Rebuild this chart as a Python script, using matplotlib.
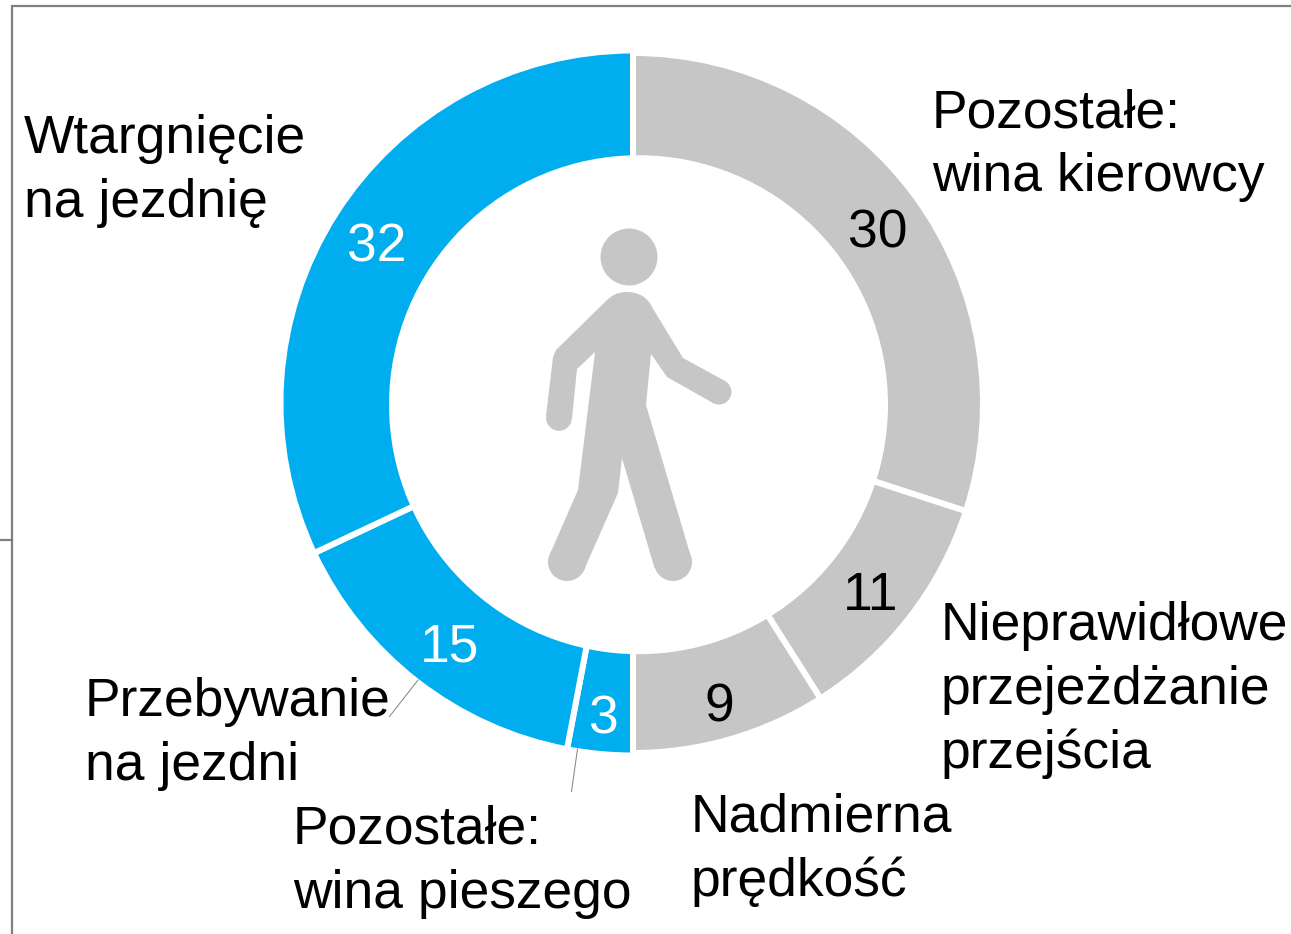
"""Wykres pierścieniowy: przyczyny wypadków z udziałem pieszych."""
import matplotlib
matplotlib.use('Agg')

import matplotlib.pyplot as plt
from matplotlib.patches import Circle, PathPatch
from matplotlib.path import Path

plt.rcParams['font.family'] = ['Liberation Sans', 'DejaVu Sans']

W, H = 1291, 934

# dane, zgodnie z ruchem wskazówek od góry
values = [30, 11, 9, 3, 15, 32]
categories = ['Pozostałe:\nwina kierowcy',
              'Nieprawidłowe\nprzejeżdżanie\nprzejścia',
              'Nadmierna\nprędkość',
              'Pozostałe:\nwina pieszego',
              'Przebywanie\nna jezdni',
              'Wtargnięcie\nna jezdnię']

GRAY = '#C6C6C6'
BLUE = '#00AEEF'
FRAME = '#808080'
colors = [GRAY, GRAY, GRAY, BLUE, BLUE, BLUE]
value_colors = ['black', 'black', 'black', 'white', 'white', 'white']

# rozmieszczenie w pikselach obrazu (y od góry)
CX, CY = 633, 403
R_GRAY, R_BLUE = 347, 349.5
HOLE_X, HOLE_Y, HOLE_R = 638.5, 404.7, 249.5  # otwór nie jest współśrodkowy
EDGE_PX = 6
value_pos = [(877.5, 233), (871, 596), (719, 708), (603.5, 719), (449.5, 648), (376.5, 247)]
label_pos = [(932, 127), (941, 640), (691, 832), (293, 844), (85, 716), (24, 153)]
LINE_STEP = 64
FONT_PT = 38.4


def py(y):
    """y obrazu -> y osi"""
    return H - y


def walker_path():
    """Sylwetka pieszego (współrzędne w pikselach obrazu)"""
    M, L, Q, C = Path.MOVETO, Path.LINETO, Path.CURVE3, Path.CLOSEPOLY
    pts = [
        ((626, 292), M),
        ((645, 292), Q), ((652, 307), Q),
        ((683, 358), L),
        ((725, 381), L),
        ((713, 403), L),
        ((667, 377), L),
        ((651, 354), L),
        ((646, 405), L),
        ((691, 557), L),
        ((654.5, 568), L),
        ((622, 458), L),
        ((618, 493), L),
        ((584, 570), L),
        ((550, 554), L),
        ((578, 490), L),
        ((595, 352), L),
        ((577, 369), L),
        ((572, 418), L),
        ((546, 416), L),
        ((553, 357), L),
        ((556, 350), L),
        ((605, 302), L),
        ((614, 292), Q), ((626, 292), Q),
        ((626, 292), C),
    ]
    return Path([(x, py(y)) for (x, y), _ in pts], [c for _, c in pts])


fig = plt.figure(figsize=(W / 100, H / 100), dpi=100, facecolor='white')
ax = fig.add_axes([0, 0, 1, 1])

wedges, _ = ax.pie(values, colors=colors, startangle=90, counterclock=False,
                   center=(CX, py(CY)), radius=R_GRAY + EDGE_PX / 2, frame=True,
                   wedgeprops={'edgecolor': 'white',
                               'linewidth': EDGE_PX * 72 / 100})
# niebieska część jest minimalnie większa
for wedge, col in zip(wedges, colors):
    if col == BLUE:
        wedge.set_radius(R_BLUE + EDGE_PX / 2)

ax.add_patch(Circle((HOLE_X, py(HOLE_Y)), HOLE_R, fc='white', ec='none'))

ax.set_xlim(0, W)
ax.set_ylim(0, H)
ax.set_aspect('equal')
ax.axis('off')

# ramka
ax.plot([12, 12, W], [0, py(6), py(6)], color=FRAME, lw=1.6, solid_joinstyle='miter')
ax.plot([0, 12], [py(539.5), py(539.5)], color=FRAME, lw=1.6)

# linie odniesienia
ax.plot([389.5, 418], [py(716.5), py(680)], color=FRAME, lw=0.7)
ax.plot([577.5, 571.5], [py(749), py(791.5)], color=FRAME, lw=0.7)

# pieszy
ax.add_patch(Circle((629, py(257)), 28.5, fc=GRAY, ec='none'))
ax.add_patch(PathPatch(walker_path(), fc=GRAY, ec='none'))
for x, y, r in [(719, 392, 12.5), (559, 418, 12.8), (567, 562, 19), (673, 562, 19)]:
    ax.add_patch(Circle((x, py(y)), r, fc=GRAY, ec='none'))

# wartości
for val, (x, y), col in zip(values, value_pos, value_colors):
    ax.text(x, py(y), str(val), color=col, fontsize=FONT_PT, ha='center', va='center')

# etykiety kategorii, linia po linii
for label, (x, y) in zip(categories, label_pos):
    for i, line in enumerate(label.split('\n')):
        ax.text(x, py(y + i * LINE_STEP), line, color='black', fontsize=FONT_PT,
                ha='left', va='baseline')

fig.savefig('out.png', dpi=100, facecolor='white')
plt.close(fig)
